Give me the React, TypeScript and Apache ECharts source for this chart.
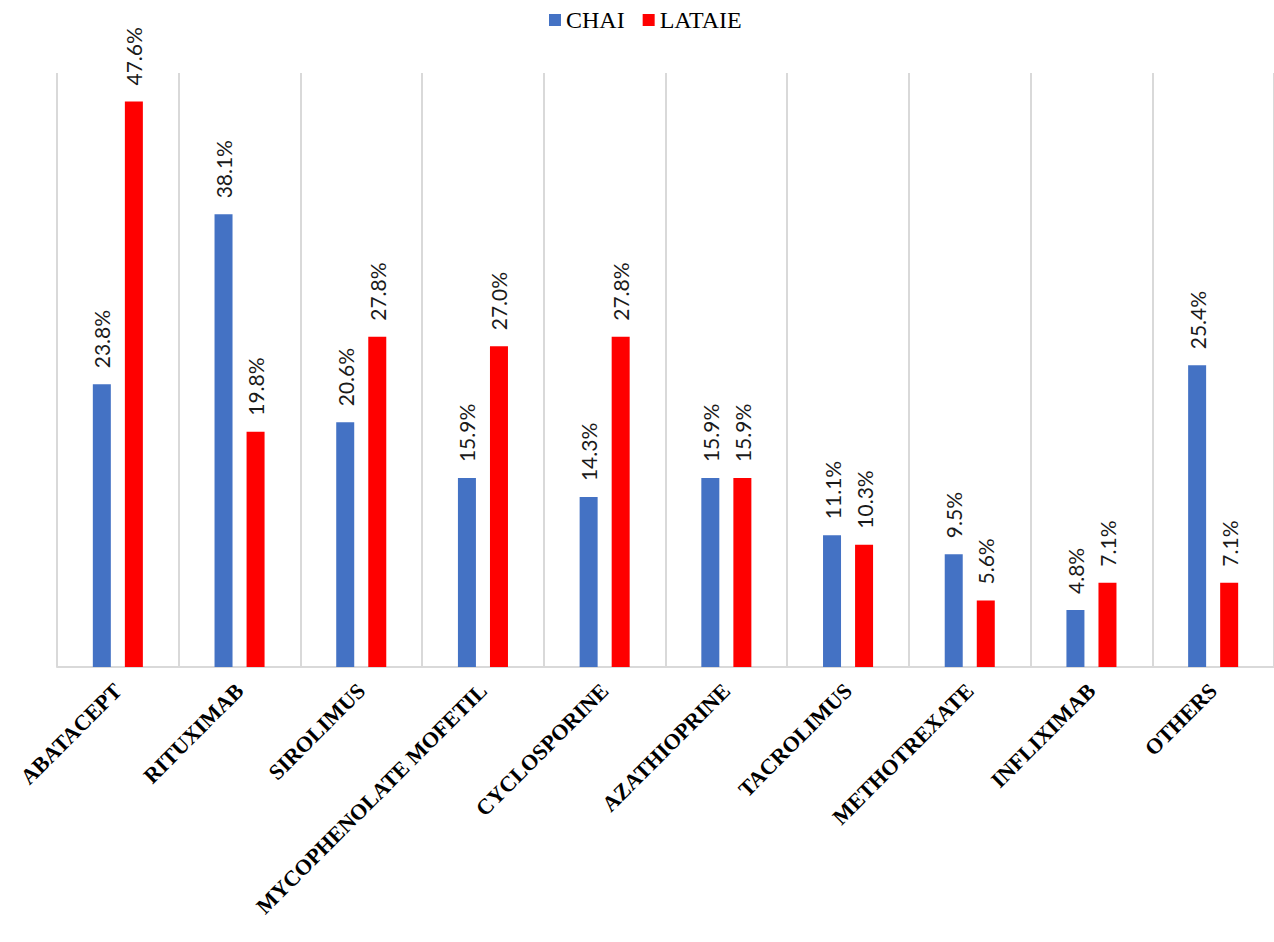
import React, { useEffect, useRef } from "react";
import * as echarts from "echarts";

const categories = [
  "ABATACEPT",
  "RITUXIMAB",
  "SIROLIMUS",
  "MYCOPHENOLATE MOFETIL",
  "CYCLOSPORINE",
  "AZATHIOPRINE",
  "TACROLIMUS",
  "METHOTREXATE",
  "INFLIXIMAB",
  "OTHERS",
];
const chaiValues = [23.8, 38.1, 20.6, 15.9, 14.3, 15.9, 11.1, 9.5, 4.8, 25.4];
const lataieValues = [47.6, 19.8, 27.8, 27.0, 27.8, 15.9, 10.3, 5.6, 7.1, 7.1];
const seriesNames = ["CHAI", "LATAIE"];

export default function App() {
  const ref = useRef<HTMLDivElement>(null);
  useEffect(() => {
    if (!ref.current) return;
    const chart = echarts.init(ref.current, null, { renderer: "svg" });
    const barLabel = {
      show: true,
      position: "top" as const,
      rotate: 90,
      align: "left" as const,
      verticalAlign: "middle" as const,
      distance: 16,
      fontFamily: "Lato, 'Noto Sans', sans-serif",
      fontSize: 21,
      color: "#1a1a1a",
      formatter: (p: any) => Number(p.value).toFixed(1) + "%",
    };
    chart.setOption({
      animation: false,
      backgroundColor: "#ffffff",
      legend: {
        data: seriesNames,
        left: 544,
        top: 3,
        itemWidth: 12,
        itemHeight: 12,
        itemGap: 18,
        icon: "rect",
        textStyle: {
          fontFamily: "'Liberation Serif', 'Times New Roman', serif",
          fontSize: 24,
          color: "#000",
        },
      },
      grid: { left: 57, width: 1219, top: 73, bottom: 275 },
      xAxis: {
        type: "category",
        data: categories,
        axisLine: { lineStyle: { color: "#d9d9d9", width: 2 } },
        axisTick: { show: false },
        splitLine: { show: true, lineStyle: { color: "#d9d9d9", width: 2 } },
        axisLabel: {
          interval: 0,
          rotate: 45,
          margin: 20,
          fontFamily: "'Liberation Serif', 'Times New Roman', serif",
          fontWeight: "bold",
          fontSize: 22,
          color: "#000",
        },
      },
      yAxis: {
        type: "value",
        min: 0,
        max: 50,
        show: false,
        splitLine: { show: false },
      },
      series: [
        {
          name: seriesNames[0],
          type: "bar",
          data: chaiValues,
          barWidth: 18,
          barGap: "78%",
          itemStyle: { color: "#4472C4" },
          label: barLabel,
        },
        {
          name: seriesNames[1],
          type: "bar",
          data: lataieValues,
          barWidth: 18,
          barGap: "78%",
          itemStyle: { color: "#FF0000" },
          label: barLabel,
        },
      ],
    });
    return () => chart.dispose();
  }, []);
  return (
    <div
      ref={ref}
      style={{ position: "absolute", left: 0, top: 0, width: 1274, height: 942 }}
    />
  );
}
